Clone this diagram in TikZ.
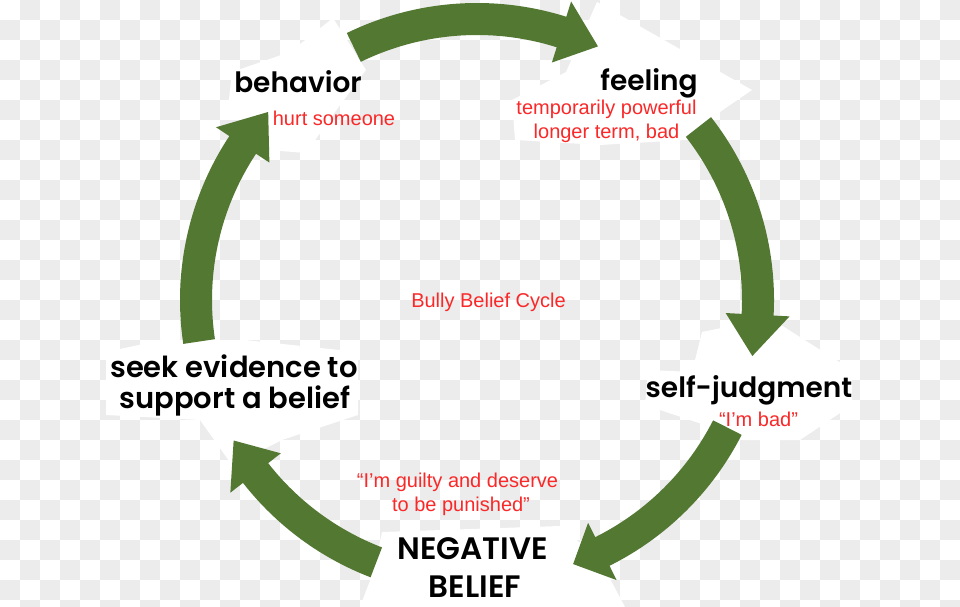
\documentclass[tikz,border=0pt]{standalone}
\usepackage{fontspec}
\setmainfont{Liberation Sans}
\newfontfamily\labfont{Poppins SemiBold}
\definecolor{arrowgreen}{RGB}{83,120,50}
\definecolor{labred}{RGB}{250,40,40}
\definecolor{checkgrey}{RGB}{236,236,236}
\tikzset{
  checker/.style={fill=checkgrey},
  patch/.style={fill=white},
  arrowbody/.style={fill=arrowgreen},
  biglabel/.style={anchor=base, inner sep=0pt, text=black, font=\labfont\fontsize{28}{34}\selectfont},
  capslabel/.style={biglabel, font=\labfont\fontsize{31}{36}\selectfont},
  seeklabel/.style={biglabel, font=\labfont\fontsize{29}{34}\selectfont},
  redlabel/.style={anchor=base, inner sep=0pt, text=labred, font=\fontsize{20}{24}\selectfont},
}
\newcommand\cyclearrow[3]{%
  \fill[arrowbody] (#1:297) arc[start angle=#1, end angle=#2, radius=297]
    -- (#2:313) -- (#3:281) -- (#2:249) -- (#2:265)
    arc[start angle=#2, end angle=#1, radius=265] -- cycle;}
\begin{document}
\begin{tikzpicture}[x=1pt,y=-1pt]
\useasboundingbox (0,0) rectangle (960,607);
\clip (0,0) rectangle (960,607);
\fill[white] (0,0) rectangle (960,607);
% checkerboard
\foreach \j in {0,...,30}{%
  \pgfmathtruncatemacro{\st}{mod(\j+1,2)}%
  \pgfmathtruncatemacro{\nx}{\st+2}%
  \foreach \i in {\st,\nx,...,47}{%
    \fill[checker] (\i*20,\j*20) rectangle ++(20,20);}}
% white patches behind labels
\fill[patch] (333,18) -- (366,70) -- (335,112) -- (306,153) -- (268,150) -- (228,108) -- (232,72) -- (290,52) -- cycle;
\fill[patch] (597,2) -- (752,90) -- (714,116) -- (686,140) -- (600,145) -- (515,140) -- (512,100) -- (566,72) -- cycle;
\fill[patch] (702,332) -- (770,318) -- (852,370) -- (852,405) -- (800,440) -- (742,440) -- (708,426) -- (645,405) -- (648,370) -- (692,372) -- cycle;
\fill[patch] (382,532) -- (560,526) -- (600,560) -- (625,607) -- (360,607) -- (374,570) -- cycle;
\fill[patch] (162,340) -- (245,340) -- (358,352) -- (358,415) -- (282,440) -- (232,465) -- (200,420) -- (106,415) -- (106,352) -- cycle;
% arrows
\begin{scope}[shift={(477,300)}]
  \cyclearrow{244}{287.5}{295.5}
  \cyclearrow{322}{363}{371.5}
  \cyclearrow{27}{63.5}{70}
  \cyclearrow{111}{142}{150}
  \cyclearrow{171.5}{213.5}{222}
\end{scope}
% labels
\node[biglabel] (behavior) at (298,93) {behavior};
\node[redlabel] (hurt) at (334,125) {hurt someone};
\node[biglabel] (feeling) at (649,91) {feeling};
\node[redlabel] (temp) at (606.5,114) {temporarily powerful};
\node[redlabel] (longer) at (606.5,138) {longer term, bad};
\node[biglabel] (selfjudg) at (749,397) {self-judgment};
\node[redlabel] (imbad) at (758.5,426) {“I’m bad”};
\node[redlabel] (guilty) at (457.5,487) {“I’m guilty and deserve};
\node[redlabel] (punished) at (461,511) {to be punished”};
\node[capslabel] (negative) at (472.5,559) {NEGATIVE};
\node[capslabel] (belief) at (475,597) {BELIEF};
\node[seeklabel] (seek) at (234,377) {seek evidence to};
\node[seeklabel] (support) at (235,408) {support a belief};
\node[redlabel] (title) at (488.5,307) {Bully Belief Cycle};
\end{tikzpicture}
\end{document}
